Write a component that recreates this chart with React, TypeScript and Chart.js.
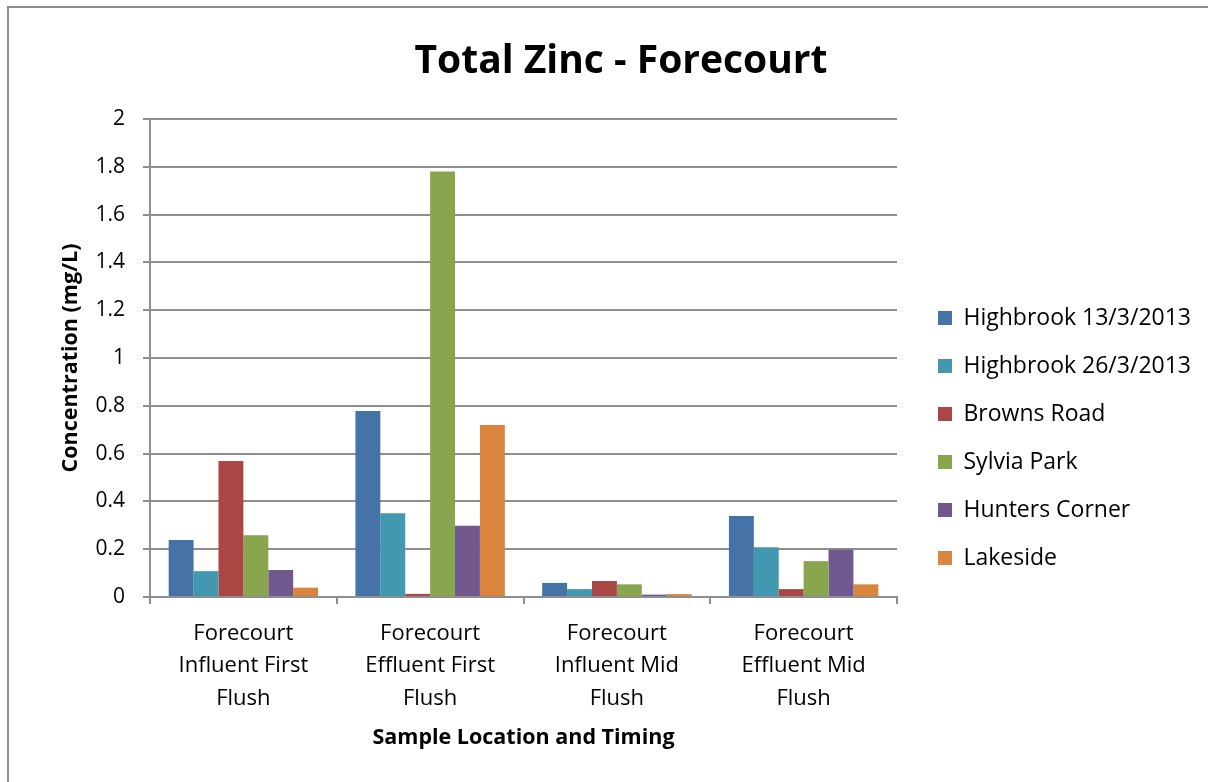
import React, { useEffect, useRef } from "react";
import { Chart, registerables } from "chart.js";

Chart.register(...registerables);

const categories: string[][] = [
  ["Forecourt", "Influent First", "Flush"],
  ["Forecourt", "Effluent First", "Flush"],
  ["Forecourt", "Influent Mid", "Flush"],
  ["Forecourt", "Effluent Mid", "Flush"],
];

const seriesNames = [
  "Highbrook 13/3/2013",
  "Highbrook 26/3/2013",
  "Browns Road",
  "Sylvia Park",
  "Hunters Corner",
  "Lakeside",
];

const highbrook13 = [0.238, 0.778, 0.059, 0.339];
const highbrook26 = [0.108, 0.35, 0.033, 0.208];
const brownsRoad = [0.569, 0.013, 0.067, 0.033];
const sylviaPark = [0.258, 1.78, 0.053, 0.15];
const huntersCorner = [0.113, 0.298, 0.01, 0.198];
const lakeside = [0.039, 0.72, 0.012, 0.053];

const seriesColors = ["#4572A7", "#4198AF", "#AA4643", "#89A54E", "#71588F", "#DB843D"];

const yTicksMin = 0;
const yTicksMax = 2;
const yTickStep = 0.2;

const FONT = "'Open Sans', 'DejaVu Sans', sans-serif";
const GRID = "#8e8e8e";

const CANVAS_W = 1242;
const CANVAS_H = 782;
const PLOT_LEFT = 150;
const PLOT_RIGHT = 897;
const PLOT_BOTTOM = 597;

export default function App() {
  const ref = useRef<HTMLCanvasElement | null>(null);

  useEffect(() => {
    if (!ref.current) return;
    const values = [highbrook13, highbrook26, brownsRoad, sylviaPark, huntersCorner, lakeside];

    const layoutFix = {
      id: "layoutFix",
      afterInit(chart: any) {
        const lg = chart.legend;
        if (lg) {
          const orig = lg.fit;
          lg.fit = function () {
            orig.call(this);
            this.width = CANVAS_W - PLOT_RIGHT;
          };
        }
      },
      afterLayout(chart: any) {
        const lg = chart.legend;
        if (lg) {
          lg.left = 913;
          lg.right = CANVAS_W;
          lg.top = 281.5;
          lg.bottom = CANVAS_H;
        }
      },
    };

    const chart = new Chart(ref.current, {
      type: "bar",
      data: {
        labels: categories,
        datasets: seriesNames.map((name, i) => ({
          label: name,
          data: values[i],
          backgroundColor: seriesColors[i],
          borderWidth: 0,
          categoryPercentage: 0.8,
          barPercentage: 1.0,
        })),
      },
      plugins: [layoutFix],
      options: {
        responsive: false,
        animation: false,
        devicePixelRatio: 1,
        layout: { padding: 0 },
        plugins: {
          title: {
            display: true,
            text: "Total Zinc - Forecourt",
            color: "#000",
            font: { family: FONT, size: 39, weight: "bold", lineHeight: 1.2 },
            padding: { top: 38.6, bottom: 33.6 },
          },
          legend: {
            position: "right",
            align: "start",
            labels: {
              color: "#000",
              font: { family: FONT, size: 23 },
              boxWidth: 14,
              boxHeight: 14,
              padding: 25,
            },
          },
          tooltip: { enabled: false },
        },
        scales: {
          x: {
            grid: {
              display: true,
              drawOnChartArea: false,
              drawTicks: true,
              tickLength: 7,
              color: GRID,
              lineWidth: 2,
              offset: true,
            },
            border: { display: true, color: GRID, width: 2 },
            ticks: {
              color: "#000",
              font: { family: FONT, size: 22, lineHeight: 1.48 },
              padding: 13,
              maxRotation: 0,
              minRotation: 0,
              autoSkip: false,
            },
            title: {
              display: true,
              text: "Sample Location and Timing",
              color: "#000",
              font: { family: FONT, size: 21.5, weight: "bold", lineHeight: 1.2 },
              padding: { top: 0, bottom: 31 },
            },
            afterFit(scale: any) {
              scale.height = CANVAS_H - PLOT_BOTTOM;
            },
          },
          y: {
            min: yTicksMin,
            max: yTicksMax,
            grid: {
              color: GRID,
              lineWidth: 2,
              drawTicks: true,
              tickLength: 7,
            },
            border: { display: true, color: GRID, width: 2 },
            ticks: {
              stepSize: yTickStep,
              color: "#000",
              font: { family: FONT, size: 21 },
              padding: 18,
              callback: (v: any) => String(Number(Number(v).toFixed(1))),
            },
            title: {
              display: true,
              text: "Concentration (mg/L)",
              color: "#000",
              font: { family: FONT, size: 21.5, weight: "bold", lineHeight: 1.2 },
              padding: { top: 58, bottom: 0 },
            },
            afterFit(scale: any) {
              scale.width = PLOT_LEFT;
            },
          },
        },
      },
    });
    return () => chart.destroy();
  }, []);

  return (
    <div
      style={{
        position: "fixed",
        left: 0,
        top: 0,
        width: "100vw",
        height: "100vh",
        overflow: "hidden",
        background: "#fff",
      }}
    >
      <div
        style={{
          position: "absolute",
          left: 7,
          top: 6,
          width: 1400,
          height: 1000,
          border: "2px solid #8c8c8c",
          boxSizing: "border-box",
        }}
      />
      <canvas
        ref={ref}
        width={CANVAS_W}
        height={CANVAS_H}
        style={{ position: "absolute", left: 0, top: 0, width: CANVAS_W, height: CANVAS_H }}
      />
    </div>
  );
}
